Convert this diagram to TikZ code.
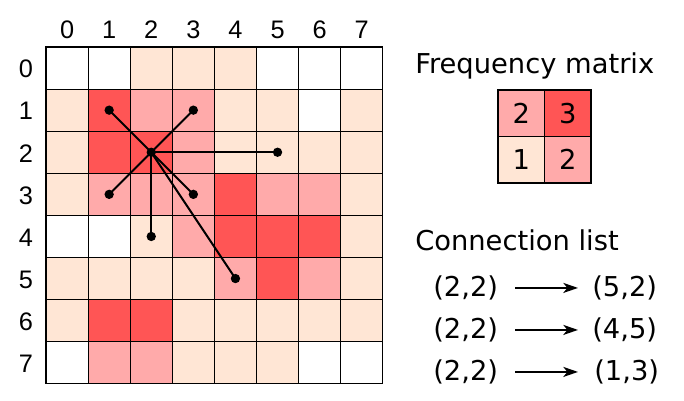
\documentclass[tikz,border=0pt]{standalone}
\usepackage{fontspec}
\setmainfont{DejaVu Sans}
\newfontfamily\gridfont{Liberation Sans}
\usetikzlibrary{arrows.meta}
\definecolor{cellW}{HTML}{FFFFFF}
\definecolor{cellP}{HTML}{FFE6D5}
\definecolor{cellK}{HTML}{FFAAAA}
\definecolor{cellR}{HTML}{FF5555}

\begin{document}
\begin{tikzpicture}[x=0.75pt, y=-0.75pt,
    cell/.style={draw=black, line width=0.9pt},
    idx/.style={font=\gridfont\fontsize{19}{22}\selectfont},
    dot/.style={circle, fill=black, inner sep=0pt, minimum size=7pt},
    link/.style={line width=1.5pt},
    txt/.style={font=\fontsize{20.5}{24}\selectfont, inner sep=0pt},
    mcell/.style={draw=black, line width=0.9pt, minimum size=34.9pt, inner sep=0pt,
                  font=\fontsize{20.5}{24}\selectfont},
    conn/.style={-{Stealth[length=11pt,width=7.5pt,inset=3pt]}, line width=1.4pt},
]
\useasboundingbox (0,0) rectangle (684,400);
\foreach \rowcols [count=\r from 0] in {{W,W,P,P,P,W,W,W},{P,R,K,K,P,P,W,P},
    {P,R,R,K,P,P,P,P},{P,K,K,K,R,K,K,P},{W,W,P,K,R,R,R,P},
    {P,P,P,P,K,R,K,P},{P,R,R,P,P,P,P,P},{W,K,K,P,P,P,W,W}}
  \foreach \c [count=\k from 0] in \rowcols
    \filldraw[cell, fill=cell\c] ({46+42.1*\k},{47+42.1*\r}) rectangle ++(42.1,42.1);
\foreach \i in {0,...,7} {
  \node[idx] (col\i) at ({67.05+42.1*\i},30) {\i};
  \node[idx] (row\i) at (26,{69+42.1*\i}) {\i};
}
\node[dot] (p22) at ({67.05+42.1*2},{68.05+42.1*2}) {};
\foreach \c/\r in {1/1,3/1,5/2,1/3,3/3,2/4,4/5} {
  \node[dot] (p\c\r) at ({67.05+42.1*\c},{68.05+42.1*\r}) {};
  \draw[link] (p22.center) -- (p\c\r.center);
}

\node[txt, anchor=base west] (freq) at (415,73) {Frequency matrix};
\foreach \x/\y/\c/\n in {0/0/K/2,1/0/R/3,0/1/P/1,1/1/K/2}
  \node[mcell, fill=cell\c] (m\x\y) at ({521.25+46.5*\x},{113.25+46.5*\y}) {\n};

\node[txt, anchor=base west] (connlist) at (415,250) {Connection list};
\node[txt, anchor=base west] (src1) at (433,296.5) {(2,2)};
\node[txt, anchor=base west] (dst1) at (592,296.5) {(5,2)};
\node[txt, anchor=base west] (src2) at (433,338.5) {(2,2)};
\node[txt, anchor=base west] (dst2) at (592,338.5) {(4,5)};
\node[txt, anchor=base west] (src3) at (433,380.5) {(2,2)};
\node[txt, anchor=base west] (dst3) at (594,380.5) {(1,3)};
\draw[conn, shorten <=12.5pt, shorten >=10.5pt] (src1.east) -- (dst1.west);
\draw[conn, shorten <=12.5pt, shorten >=10.5pt] (src2.east) -- (dst2.west);
\draw[conn, shorten <=12.5pt, shorten >=12pt] (src3.east) -- (dst3.west);
\end{tikzpicture}
\end{document}
